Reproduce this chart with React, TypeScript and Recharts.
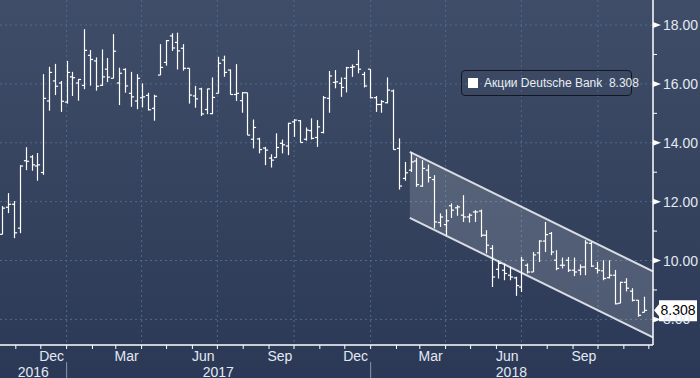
import React from 'react';
import {
  ComposedChart,
  Bar,
  Area,
  XAxis,
  YAxis,
  CartesianGrid,
  Legend,
  ReferenceDot,
} from 'recharts';

// ---------- data ----------
const SERIES_NAME = 'Акции Deutsche Bank';
const LAST_PRICE = 8.308;
const FIRST_WEEK = '2016-10-16'; // weekly bars, one per week from this date

const OPEN = [10.89, 11.81, 11.91, 11.10, 13.39, 13.52, 13.21, 12.99, 15.42, 16.10,
  16.03, 15.38, 16.24, 16.03, 15.95, 16.97, 16.78, 15.95, 16.50, 16.19,
  16.03, 16.49, 15.68, 15.42, 15.53, 15.61, 15.17, 16.30, 16.73, 17.63,
  17.41, 17.21, 16.53, 15.59, 15.83, 15.13, 14.99, 15.68, 16.81, 16.47,
  15.64, 15.43, 15.70, 14.12, 14.13, 13.82, 13.48, 13.50, 13.98, 13.89,
  14.71, 14.75, 14.12, 14.41, 14.18, 14.35, 15.51, 16.05, 16.02, 16.19,
  16.56, 16.66, 16.32, 16.50, 15.53, 15.30, 15.36, 15.76, 13.81, 12.79,
  13.07, 13.38, 12.53, 13.07, 12.75, 11.29, 11.22, 11.86, 11.79, 11.54,
  11.48, 11.65, 11.68, 10.86, 10.41, 9.70, 9.67, 9.50, 9.41, 9.10,
  9.84, 9.61, 10.26, 10.66, 10.92, 10.01, 9.84, 10.01, 9.67, 9.67,
  9.78, 10.58, 9.73, 9.65, 9.42, 9.50, 8.55, 9.26, 8.96, 8.65, 8.24];

const HIGH = [11.85, 12.29, 12.02, 13.24, 13.85, 13.58, 13.65, 16.33, 16.58, 16.68,
  16.10, 16.78, 16.41, 16.17, 17.86, 17.15, 16.90, 17.17, 16.88, 17.69,
  16.55, 16.53, 16.41, 16.33, 16.02, 15.70, 15.63, 17.35, 17.49, 17.72,
  17.74, 17.35, 16.53, 15.93, 15.87, 15.84, 16.22, 16.92, 16.96, 16.49,
  16.67, 15.72, 15.70, 14.79, 14.17, 13.86, 13.61, 14.32, 14.11, 14.68,
  14.80, 14.77, 14.52, 14.83, 14.77, 15.59, 16.44, 16.47, 16.22, 16.58,
  16.66, 17.15, 16.41, 16.50, 15.59, 15.45, 16.22, 15.81, 14.15, 13.35,
  13.67, 13.49, 13.41, 13.26, 12.90, 11.60, 11.74, 11.94, 11.88, 12.22,
  11.60, 11.71, 11.73, 11.03, 10.52, 10.01, 9.90, 9.78, 9.45, 10.12,
  9.90, 10.29, 10.69, 11.31, 10.97, 10.35, 10.10, 10.12, 10.10, 9.87,
  10.69, 10.63, 9.95, 10.01, 10.01, 9.68, 9.28, 9.40, 9.06, 8.66, 8.77];

const LOW = [10.89, 11.61, 10.76, 10.93, 13.07, 13.05, 12.71, 12.91, 15.09, 15.62,
  15.05, 15.33, 15.59, 15.43, 15.82, 15.94, 15.77, 15.93, 16.06, 16.19,
  15.28, 15.70, 15.22, 15.14, 15.20, 15.10, 14.75, 16.30, 16.62, 17.12,
  16.49, 16.45, 15.33, 15.19, 14.91, 14.97, 14.97, 15.68, 16.24, 15.64,
  15.42, 15.02, 14.26, 13.81, 13.64, 13.24, 13.16, 13.50, 13.64, 13.58,
  14.20, 14.01, 14.07, 14.11, 13.86, 14.32, 15.02, 15.85, 15.56, 15.71,
  16.24, 16.36, 15.88, 15.51, 15.05, 15.02, 15.34, 13.77, 12.41, 12.71,
  13.01, 12.50, 12.50, 12.65, 11.09, 11.14, 10.86, 11.45, 11.52, 11.31,
  11.29, 11.31, 10.80, 10.24, 9.10, 9.39, 9.33, 9.33, 8.80, 8.93,
  9.56, 9.61, 9.95, 10.29, 10.18, 9.67, 9.73, 9.61, 9.47, 9.50,
  9.50, 9.78, 9.56, 9.33, 9.39, 8.51, 8.55, 8.95, 8.61, 8.09, 8.24];

const CLOSE = [11.78, 11.91, 10.94, 13.21, 13.37, 13.25, 13.25, 15.51, 16.39, 15.92,
  15.41, 16.39, 16.21, 16.15, 17.14, 16.83, 15.92, 16.24, 16.23, 17.11,
  16.36, 15.93, 15.56, 16.19, 15.56, 15.12, 15.58, 16.56, 17.47, 17.22,
  17.12, 16.53, 15.62, 15.49, 14.98, 15.83, 15.54, 16.70, 16.39, 15.64,
  15.68, 15.70, 14.26, 14.52, 13.77, 13.75, 13.41, 13.84, 13.93, 14.66,
  14.77, 14.01, 14.43, 14.15, 14.54, 15.53, 16.27, 16.07, 15.88, 16.55,
  16.58, 16.50, 15.93, 15.53, 15.30, 15.40, 15.79, 13.77, 12.53, 12.98,
  13.35, 12.58, 13.13, 12.82, 11.31, 11.48, 11.35, 11.71, 11.82, 11.48,
  11.54, 11.65, 10.86, 10.52, 9.44, 9.90, 9.56, 9.44, 9.15, 10.01,
  9.61, 10.19, 10.66, 10.88, 10.29, 9.73, 9.84, 9.67, 9.61, 9.78,
  10.60, 9.81, 9.67, 9.39, 9.50, 8.53, 9.26, 9.06, 8.65, 8.14, 8.308];

// trend channel (drawn parallelogram)
const CHANNEL_DATES = ['2018-02-17', '2018-12-06'];
const CHANNEL_UPPER = [13.69, 9.63];
const CHANNEL_LOWER = [11.45, 7.39];

// axes
const X_DOMAIN_DATES = ['2016-10-13', '2018-12-06'];
const Y_DOMAIN = [7.13, 18.85];
const Y_TICKS = [8, 9, 10, 11, 12, 13, 14, 15, 16, 17, 18];
const Y_GRID = [8, 10, 12, 14, 16, 18];
const MONTH_TICKS = ['2016-11-01', '2016-12-01', '2017-01-01', '2017-02-01', '2017-03-01',
  '2017-04-01', '2017-05-01', '2017-06-01', '2017-07-01', '2017-08-01', '2017-09-01',
  '2017-10-01', '2017-11-01', '2017-12-01', '2018-01-01', '2018-02-01', '2018-03-01',
  '2018-04-01', '2018-05-01', '2018-06-01', '2018-07-01', '2018-08-01', '2018-09-01',
  '2018-10-01', '2018-11-01', '2018-12-01'];
const GRID_DATES = ['2017-01-01', '2017-04-01', '2017-07-01', '2017-10-01',
  '2018-01-01', '2018-04-01', '2018-07-01', '2018-10-01'];
const MONTH_LABEL_DATES = ['2016-12-14', '2017-03-14', '2017-06-14', '2017-09-14',
  '2017-12-14', '2018-03-14', '2018-06-14', '2018-09-14'];
const MONTH_LABEL_TEXT = ['Dec', 'Mar', 'Jun', 'Sep', 'Dec', 'Mar', 'Jun', 'Sep'];
const YEAR_LABEL_DATES = ['2016-11-22', '2017-07-02', '2018-06-19'];
const YEAR_LABEL_TEXT = ['2016', '2017', '2018'];
const YEAR_BOUNDARY_DATES = ['2017-01-01', '2018-01-01'];

// ---------- helpers ----------
const EPOCH = Date.UTC(2017, 0, 1);
const dayOf = (iso: string) => {
  const [y, m, d] = iso.split('-').map(Number);
  return Math.round((Date.UTC(y, m - 1, d) - EPOCH) / 86400000);
};

const firstDay = dayOf(FIRST_WEEK);
const bars = OPEN.map((o, i) => ({
  day: firstDay + 7 * i,
  open: o,
  high: HIGH[i],
  low: LOW[i],
  close: CLOSE[i],
}));

const channel = CHANNEL_DATES.map((d, i) => ({
  day: dayOf(d),
  band: [CHANNEL_LOWER[i], CHANNEL_UPPER[i]],
}));

const monthTickSet = new Set(MONTH_TICKS.map(dayOf));
const boundarySet = new Set(YEAR_BOUNDARY_DATES.map(dayOf));
const monthLabelMap = new Map(MONTH_LABEL_DATES.map((d, i) => [dayOf(d), MONTH_LABEL_TEXT[i]]));
const yearLabelMap = new Map(YEAR_LABEL_DATES.map((d, i) => [dayOf(d), YEAR_LABEL_TEXT[i]]));
const xTicks = Array.from(
  new Set([...monthTickSet, ...monthLabelMap.keys(), ...yearLabelMap.keys()])
).sort((a, b) => a - b);

const FONT = '"Liberation Sans", Arial, sans-serif';
const TEXT = '#e3e9f2';

// ---------- shapes ----------
const OhlcShape = (props: any) => {
  const { x, y, width, height, payload } = props;
  if (!payload) return null;
  const cx = Math.round(x + width / 2) + 0.5;
  const top = Math.min(y, y + height);
  const h = Math.abs(height);
  const range = payload.high - payload.low || 1;
  const py = (v: number) => top + ((payload.high - v) / range) * h;
  return (
    <g stroke="#ffffff" strokeWidth={1.2}>
      <line x1={cx} x2={cx} y1={top} y2={top + h} />
      <line x1={cx - 2.6} x2={cx} y1={py(payload.open)} y2={py(payload.open)} />
      <line x1={cx} x2={cx + 2.6} y1={py(payload.close)} y2={py(payload.close)} />
    </g>
  );
};

const YTick = (props: any) => {
  const { x, y, payload } = props;
  const v = payload.value;
  if (v % 2 === 1) {
    return <line x1={x} x2={x + 4} y1={y} y2={y} stroke="#ffffff" strokeWidth={1} />;
  }
  return (
    <g>
      <path d={`M${x},${y - 3} L${x + 8},${y} L${x},${y + 3} Z`} fill="#ffffff" />
      <text x={x + 10} y={y} dy="0.36em" fill={TEXT} fontSize={14} fontFamily={FONT}>
        {v.toFixed(2)}
      </text>
    </g>
  );
};

const XTick = (props: any) => {
  const { x, y, payload } = props;
  const v = payload.value;
  const ml = monthLabelMap.get(v);
  const yl = yearLabelMap.get(v);
  return (
    <g>
      {monthTickSet.has(v) && <line x1={x} x2={x} y1={y} y2={y + 4} stroke="#ffffff" strokeWidth={1} />}
      {boundarySet.has(v) && <line x1={x} x2={x} y1={y + 17} y2={y + 33} stroke="#8d96a6" strokeWidth={1} />}
      {ml && (
        <text x={x} y={y + 16} textAnchor="middle" fill={TEXT} fontSize={14} fontFamily={FONT}>
          {ml}
        </text>
      )}
      {yl && (
        <text x={x} y={y + 31.5} textAnchor="middle" fill={TEXT} fontSize={14} fontFamily={FONT}>
          {yl}
        </text>
      )}
    </g>
  );
};

const LastPriceShape = (props: any) => {
  const { cx, cy } = props;
  const l = cx + 6;
  const r = cx + 44;
  return (
    <g>
      <path
        d={`M${cx + 1},${cy} L${l},${cy - 6} L${l},${cy - 10} L${r},${cy - 10} L${r},${cy + 11} L${l},${cy + 11} L${l},${cy + 6} Z`}
        fill="#ffffff"
      />
      <text x={(l + r) / 2} y={cy} dy="0.36em" textAnchor="middle" fill="#000000" fontSize={14} fontFamily={FONT}>
        {LAST_PRICE.toFixed(3)}
      </text>
    </g>
  );
};

const LegendBox = () => (
  <div
    style={{
      boxSizing: 'border-box',
      width: 171,
      height: 26,
      border: '1.5px solid #14171f',
      borderRadius: 4,
      display: 'flex',
      alignItems: 'center',
      paddingLeft: 6,
      fontFamily: FONT,
      fontSize: 12,
      color: '#e9edf3',
      whiteSpace: 'nowrap',
    }}
  >
    <span
      style={{
        display: 'inline-block',
        flex: '0 0 10px',
        width: 10,
        height: 10,
        background: '#ffffff',
        marginRight: 6,
      }}
    />
    <span>{SERIES_NAME}&nbsp;&nbsp;{LAST_PRICE.toFixed(3)}</span>
  </div>
);

export default function App() {
  const xDomain = X_DOMAIN_DATES.map(dayOf);
  return (
    <div
      style={{
        position: 'absolute',
        left: 0,
        top: 0,
        width: 700,
        height: 378,
        background: 'linear-gradient(180deg, #3f4d69 0%, #36445f 45%, #2b3957 100%)',
      }}
    >
      <ComposedChart
        width={700}
        height={378}
        data={bars}
        margin={{ top: 0, right: 0, bottom: 0, left: 0 }}
      >
        <CartesianGrid
          stroke="#4d6c8a"
          strokeDasharray="2 3"
          horizontalValues={Y_GRID}
          verticalValues={GRID_DATES.map(dayOf)}
        />
        <XAxis
          dataKey="day"
          type="number"
          domain={xDomain}
          allowDataOverflow
          ticks={xTicks}
          interval={0}
          tick={<XTick />}
          tickLine={false}
          tickSize={0}
          tickMargin={0}
          height={33}
          axisLine={{ stroke: '#ffffff', strokeWidth: 1.5 }}
        />
        <YAxis
          orientation="right"
          type="number"
          domain={Y_DOMAIN}
          allowDataOverflow
          ticks={Y_TICKS}
          interval={0}
          tick={<YTick />}
          tickLine={false}
          tickSize={0}
          tickMargin={0}
          width={47}
          axisLine={{ stroke: '#ffffff', strokeWidth: 1.5 }}
        />
        <Area
          data={channel}
          dataKey="band"
          type="linear"
          stroke="#d9dce3"
          strokeWidth={2}
          fill="#ffffff"
          fillOpacity={0.16}
          dot={false}
          activeDot={false}
          isAnimationActive={false}
          legendType="none"
        />
        <Bar
          name={SERIES_NAME}
          dataKey={(d: any) => [d.low, d.high]}
          barSize={5}
          shape={<OhlcShape />}
          isAnimationActive={false}
        />
        <ReferenceDot
          x={xDomain[1]}
          y={LAST_PRICE}
          r={0}
          ifOverflow="visible"
          shape={<LastPriceShape />}
        />
        <Legend
          layout="horizontal"
          verticalAlign="middle"
          align="center"
          wrapperStyle={{ left: 461, top: 70, width: 171, height: 26 }}
          content={<LegendBox />}
        />
      </ComposedChart>
    </div>
  );
}
